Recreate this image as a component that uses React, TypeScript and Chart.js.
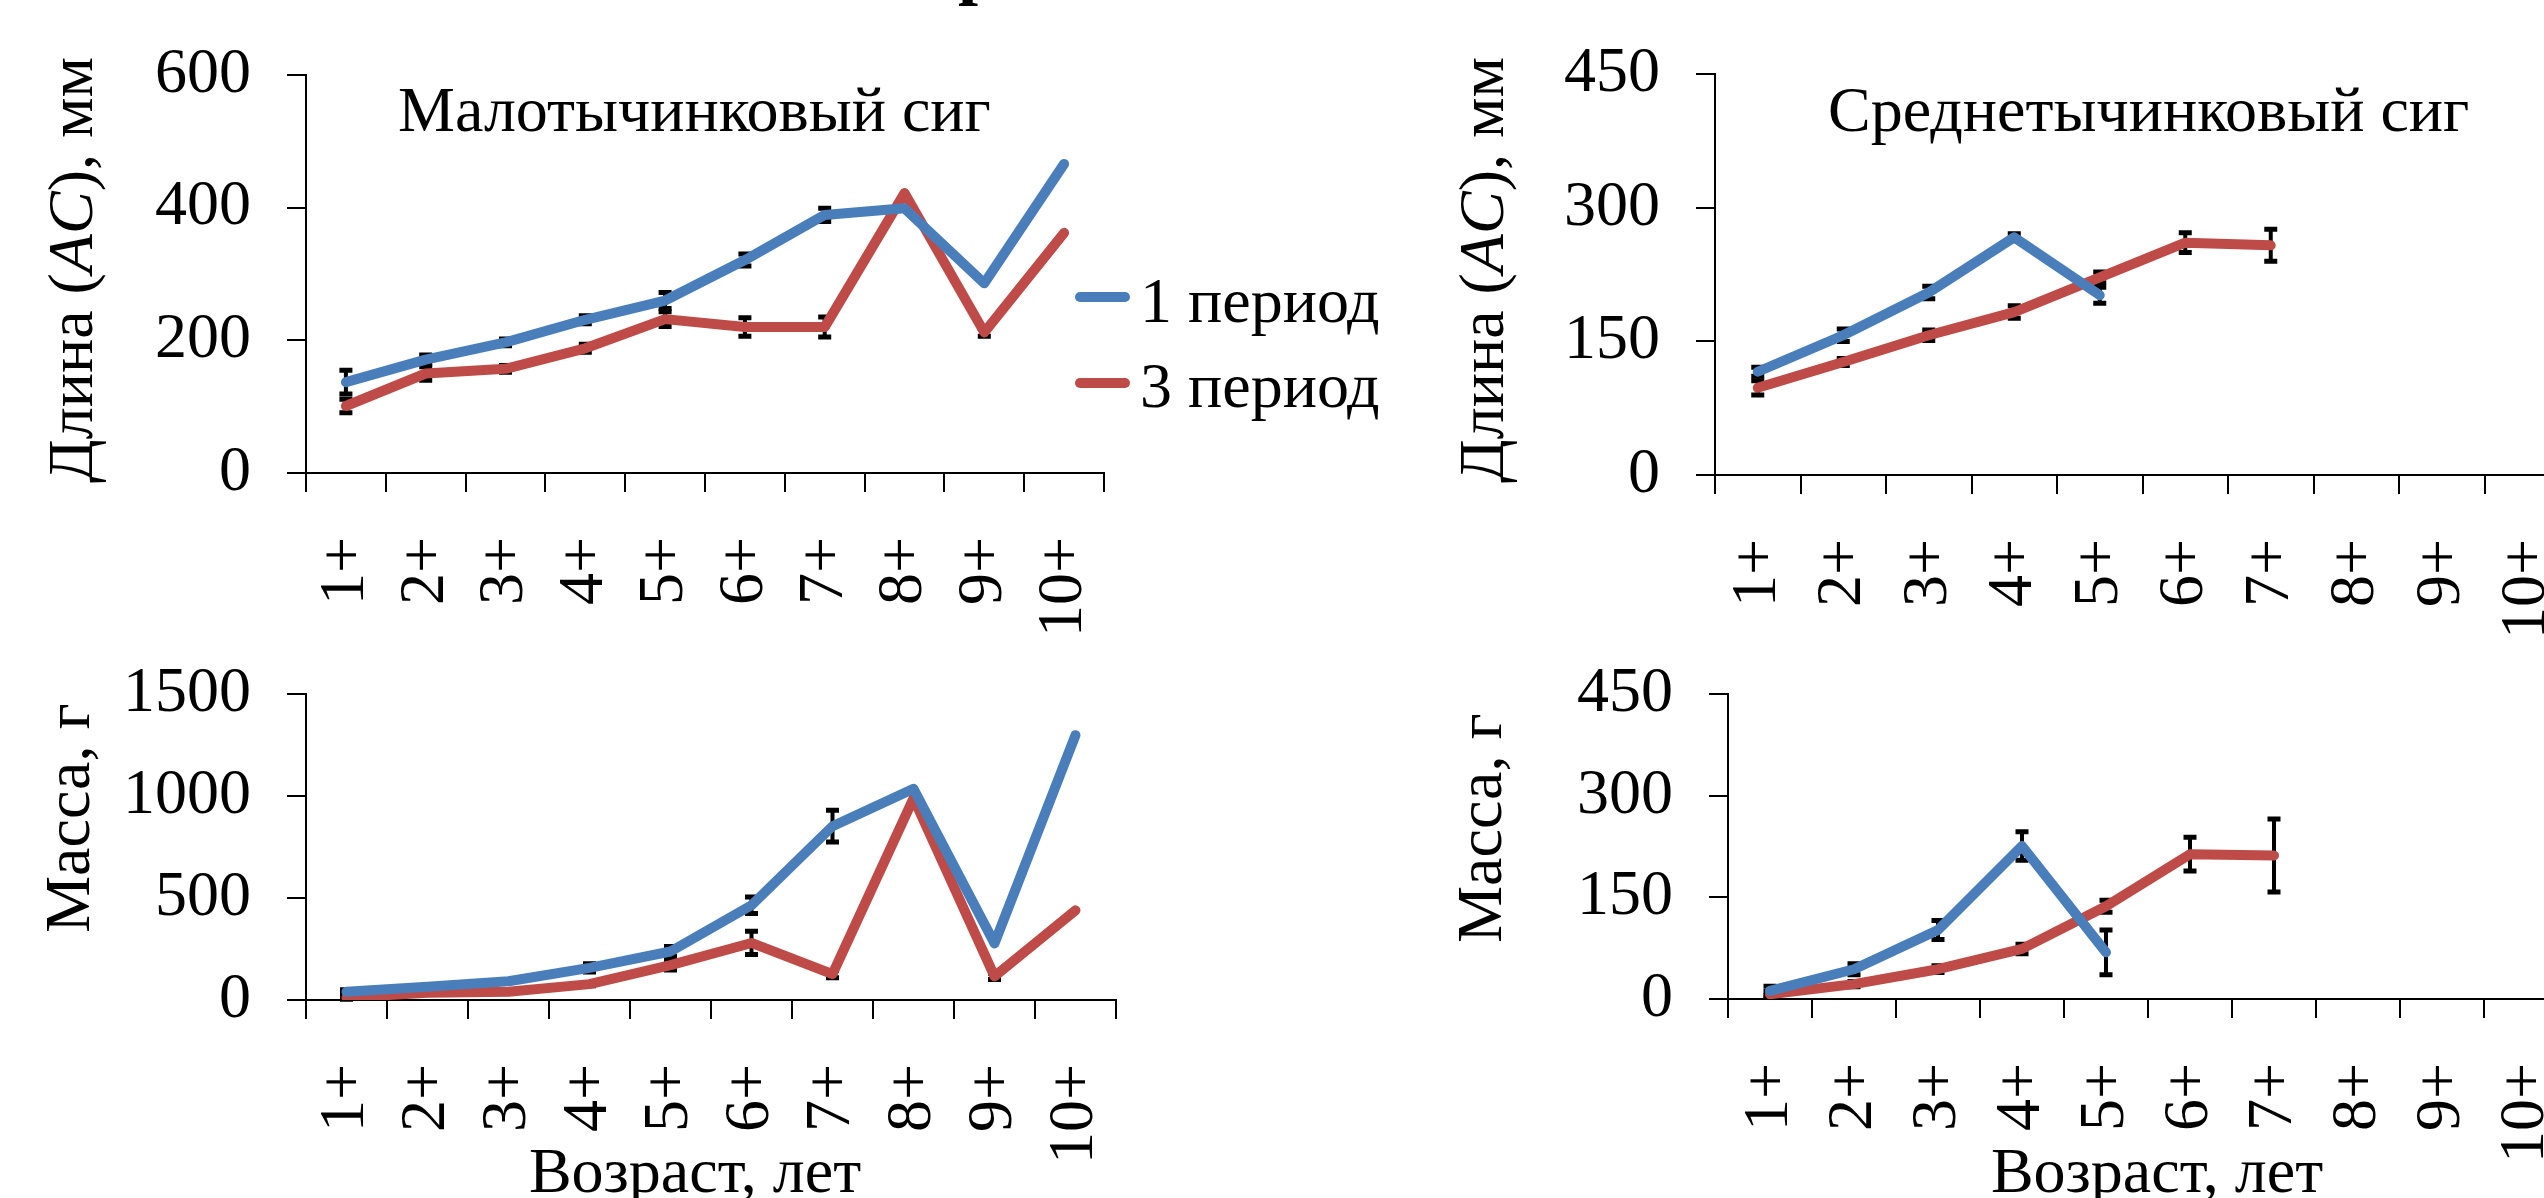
import React, { useEffect, useRef } from "react";
import { Chart, registerables } from "chart.js";

Chart.register(...registerables);

// ---------- data ----------
const ageLabels = ["1+", "2+", "3+", "4+", "5+", "6+", "7+", "8+", "9+", "10+"];
const seriesNames = ["1 период", "3 период"];
const seriesColors = ["#4A7EBB", "#BE4B48"];

// Малотычинковый сиг — длина (AC), мм
const smallLen1 = [137, 171, 197, 231, 260, 321, 389, 399, 286, 466];
const smallLen1Err = [18, 7, 5, 6, 12, 9, 10, 0, 0, 0];
const smallLen3 = [101, 150, 157, 188, 232, 220, 220, 422, 212, 362];
const smallLen3Err = [10, 10, 5, 6, 11, 14, 15, 0, 6, 0];

// Малотычинковый сиг — масса, г
const smallMass1 = [40, 65, 92, 158, 238, 465, 853, 1037, 278, 1300];
const smallMass1Err = [10, 0, 6, 20, 25, 40, 78, 0, 0, 0];
const smallMass3 = [12, 36, 41, 78, 171, 280, 127, 990, 116, 440];
const smallMass3Err = [8, 0, 5, 8, 24, 57, 18, 0, 15, 0];

// Среднетычинковый сиг — длина (AC), мм
const midLen1 = [116, 157, 205, 267, 202, null, null, null, null, null];
const midLen1Err = [5, 7, 7, 4, 9, 0, 0, 0, 0, 0];
const midLen3 = [98, 127, 157, 183, 222, 261, 258, null, null, null];
const midLen3Err = [8, 4, 6, 7, 6, 11, 18, 0, 0, 0];

// Среднетычинковый сиг — масса, г
const midMass1 = [12, 44, 102, 226, 69, null, null, null, null, null];
const midMass1Err = [7, 8, 14, 21, 33, 0, 0, 0, 0, 0];
const midMass3 = [7, 22, 44, 74, 137, 214, 212, null, null, null];
const midMass3Err = [4, 4, 5, 7, 9, 25, 54, 0, 0, 0];

const lenTicks = { small: { max: 600, step: 200 }, mid: { max: 450, step: 150 } };
const massTicks = { small: { max: 1500, step: 500 }, mid: { max: 450, step: 150 } };

const titleSmall = "Малотычинковый сиг";
const titleMid = "Среднетычинковый сиг";
const yTitleLen = [{ text: "Длина (" }, { text: "AC", italic: true }, { text: "), мм" }];
const yTitleMass = [{ text: "Масса, г" }];
const xTitle = [{ text: "Возраст, лет" }];

// ---------- drawing helpers ----------
const FONT = "'Liberation Serif', 'Times New Roman', serif";
const FS = 64;

type Part = { text: string; italic?: boolean; bold?: boolean; size?: number };
type TextItem = { parts: Part[]; x: number; y: number; rotate?: boolean; align?: "left" | "center" };

function fontOf(p: Part) {
  return `${p.italic ? "italic " : ""}${p.bold ? "bold " : ""}${p.size || FS}px ${FONT}`;
}

function drawParts(ctx: CanvasRenderingContext2D, item: TextItem) {
  ctx.save();
  ctx.translate(item.x, item.y);
  if (item.rotate) ctx.rotate(-Math.PI / 2);
  ctx.textBaseline = "alphabetic";
  ctx.textAlign = "left";
  ctx.fillStyle = "#000";
  const widths = item.parts.map((p) => {
    ctx.font = fontOf(p);
    return ctx.measureText(p.text).width;
  });
  const total = widths.reduce((a, b) => a + b, 0);
  let cx = item.align === "center" ? -total / 2 : 0;
  item.parts.forEach((p, i) => {
    ctx.font = fontOf(p);
    ctx.fillText(p.text, cx, 0);
    cx += widths[i];
  });
  ctx.restore();
}

const errorBarPlugin = {
  id: "errorBars",
  beforeDatasetsDraw(chart: any) {
    const ctx = chart.ctx;
    const y = chart.scales.y;
    ctx.save();
    ctx.strokeStyle = "#000";
    ctx.lineCap = "butt";
    chart.data.datasets.forEach((ds: any, i: number) => {
      const errs: number[] = ds.errors || [];
      const meta = chart.getDatasetMeta(i);
      meta.data.forEach((pt: any, j: number) => {
        const v = ds.data[j];
        const e = errs[j];
        if (v == null || !e) return;
        const top = y.getPixelForValue(v + e);
        const bot = y.getPixelForValue(v - e);
        const x = pt.x;
        ctx.lineWidth = 4;
        ctx.beginPath();
        ctx.moveTo(x, top);
        ctx.lineTo(x, bot);
        ctx.stroke();
        ctx.lineWidth = 5;
        ctx.beginPath();
        ctx.moveTo(x - 6.5, top);
        ctx.lineTo(x + 6.5, top);
        ctx.moveTo(x - 6.5, bot);
        ctx.lineTo(x + 6.5, bot);
        ctx.stroke();
      });
    });
    ctx.restore();
  },
};

function makeTextPlugin(items: TextItem[], legend?: { x0: number; x1: number; tx: number; ys: number[]; base: number[] }) {
  return {
    id: "texts",
    afterDraw(chart: any) {
      const ctx = chart.ctx;
      items.forEach((it) => drawParts(ctx, it));
      if (legend) {
        chart.data.datasets.forEach((ds: any, i: number) => {
          ctx.save();
          ctx.strokeStyle = ds.borderColor;
          ctx.lineWidth = 10;
          ctx.lineCap = "round";
          ctx.beginPath();
          ctx.moveTo(legend.x0, legend.ys[i]);
          ctx.lineTo(legend.x1, legend.ys[i]);
          ctx.stroke();
          ctx.restore();
          drawParts(ctx, { parts: [{ text: ds.label }], x: legend.tx, y: legend.base[i] });
        });
      }
    },
  };
}

type PanelSpec = {
  left: number;
  top: number;
  width: number;
  height: number;
  plotLeft: number;
  plotRight: number;
  plotTop: number;
  plotBottom: number;
  s1: (number | null)[];
  e1: number[];
  s3: (number | null)[];
  e3: number[];
  yMax: number;
  yStep: number;
  texts: TextItem[];
  legend?: { x0: number; x1: number; tx: number; ys: number[]; base: number[] };
};

function buildConfig(p: PanelSpec): any {
  const yWidth = p.plotLeft - p.left;
  const xHeight = p.top + p.height - p.plotBottom;
  const local = (it: TextItem): TextItem => ({ ...it, x: it.x - p.left, y: it.y - p.top });
  const legend = p.legend
    ? {
        x0: p.legend.x0 - p.left,
        x1: p.legend.x1 - p.left,
        tx: p.legend.tx - p.left,
        ys: p.legend.ys.map((v) => v - p.top),
        base: p.legend.base.map((v) => v - p.top),
      }
    : undefined;
  const tickFont = { family: FONT, size: FS };
  const mkSet = (i: number, data: (number | null)[], errors: number[]) => ({
    label: seriesNames[i],
    data,
    errors,
    borderColor: seriesColors[i],
    backgroundColor: seriesColors[i],
    borderWidth: 10,
    borderCapStyle: "round",
    borderJoinStyle: "round",
    pointRadius: 0,
    tension: 0,
    spanGaps: false,
  });
  return {
    type: "line",
    data: {
      labels: ageLabels,
      datasets: [mkSet(0, p.s1, p.e1), mkSet(1, p.s3, p.e3)],
    },
    options: {
      responsive: false,
      animation: false,
      devicePixelRatio: 1,
      events: [],
      layout: {
        padding: {
          left: 0,
          top: p.plotTop - p.top,
          right: p.left + p.width - p.plotRight,
          bottom: 0,
        },
      },
      plugins: {
        legend: { display: false },
        tooltip: { enabled: false },
        title: { display: false },
      },
      scales: {
        x: {
          type: "category",
          offset: true,
          afterFit: (s: any) => {
            s.height = xHeight;
          },
          grid: {
            offset: true,
            drawOnChartArea: false,
            drawTicks: true,
            tickLength: 19,
            color: "#000",
            lineWidth: 2,
          },
          border: { display: true, color: "#000", width: 2 },
          ticks: {
            font: tickFont,
            color: "#000",
            minRotation: 90,
            maxRotation: 90,
            autoSkip: false,
            padding: 45,
          },
        },
        y: {
          type: "linear",
          min: 0,
          max: p.yMax,
          afterFit: (s: any) => {
            s.width = yWidth;
          },
          grid: {
            drawOnChartArea: false,
            drawTicks: true,
            tickLength: 19,
            color: "#000",
            lineWidth: 2,
          },
          border: { display: true, color: "#000", width: 2 },
          ticks: {
            stepSize: p.yStep,
            font: tickFont,
            color: "#000",
            padding: 36,
            callback: (v: any) => String(v),
          },
        },
      },
    },
    plugins: [errorBarPlugin, makeTextPlugin(p.texts.map(local), legend)],
  };
}

const panels: PanelSpec[] = [
  {
    left: 0, top: 0, width: 1420, height: 640,
    plotLeft: 306, plotRight: 1104, plotTop: 75, plotBottom: 473,
    s1: smallLen1, e1: smallLen1Err, s3: smallLen3, e3: smallLen3Err,
    yMax: lenTicks.small.max, yStep: lenTicks.small.step,
    texts: [
      { parts: yTitleLen, x: 92, y: 270, rotate: true, align: "center" },
      { parts: [{ text: titleSmall }], x: 398, y: 131 },
      { parts: [{ text: "р", bold: true, size: 72 }], x: 958, y: -9 },
    ],
    legend: { x0: 1080, x1: 1125, tx: 1140, ys: [297, 383], base: [322, 407] },
  },
  {
    left: 1300, top: 0, width: 1450, height: 640,
    plotLeft: 1715, plotRight: 2570, plotTop: 72, plotBottom: 475,
    s1: midLen1, e1: midLen1Err, s3: midLen3, e3: midLen3Err,
    yMax: lenTicks.mid.max, yStep: lenTicks.mid.step,
    texts: [
      { parts: yTitleLen, x: 1503, y: 270, rotate: true, align: "center" },
      { parts: [{ text: titleMid }], x: 1828, y: 131 },
    ],
  },
  {
    left: 0, top: 620, width: 1420, height: 578,
    plotLeft: 306, plotRight: 1116, plotTop: 642, plotBottom: 1000,
    s1: smallMass1, e1: smallMass1Err, s3: smallMass3, e3: smallMass3Err,
    yMax: massTicks.small.max, yStep: massTicks.small.step,
    texts: [
      { parts: yTitleMass, x: 89, y: 818, rotate: true, align: "center" },
      { parts: xTitle, x: 695, y: 1192, align: "center" },
    ],
  },
  {
    left: 1300, top: 620, width: 1450, height: 578,
    plotLeft: 1728, plotRight: 2568, plotTop: 648, plotBottom: 999,
    s1: midMass1, e1: midMass1Err, s3: midMass3, e3: midMass3Err,
    yMax: massTicks.mid.max, yStep: massTicks.mid.step,
    texts: [
      { parts: yTitleMass, x: 1501, y: 828, rotate: true, align: "center" },
      { parts: xTitle, x: 2157, y: 1192, align: "center" },
    ],
  },
];

function Panel({ spec }: { spec: PanelSpec }) {
  const ref = useRef<HTMLCanvasElement | null>(null);
  useEffect(() => {
    if (!ref.current) return;
    const chart = new Chart(ref.current, buildConfig(spec));
    return () => chart.destroy();
  }, [spec]);
  return (
    <canvas
      ref={ref}
      width={spec.width}
      height={spec.height}
      style={{ position: "absolute", left: spec.left, top: spec.top, width: spec.width, height: spec.height }}
    />
  );
}

export default function App() {
  return (
    <div
      style={{
        position: "fixed",
        left: 0,
        top: 0,
        width: 2544,
        height: 1198,
        overflow: "hidden",
        background: "#fff",
      }}
    >
      {panels.map((p, i) => (
        <Panel key={i} spec={p} />
      ))}
    </div>
  );
}
